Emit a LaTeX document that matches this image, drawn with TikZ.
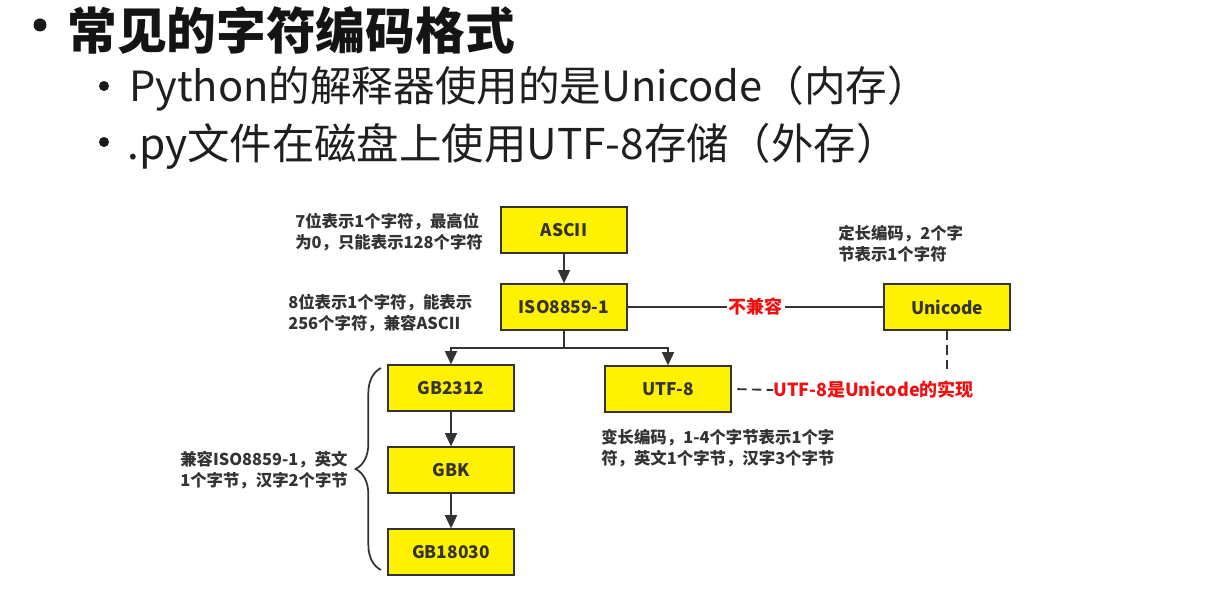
\documentclass[tikz,border=0pt]{standalone}
\usepackage{fontspec}
\setmainfont{Noto Sans CJK SC}
\usetikzlibrary{arrows.meta,decorations.pathreplacing}
\definecolor{boxfill}{HTML}{FFF200}
\definecolor{ink}{HTML}{333333}
\definecolor{redtxt}{HTML}{F01010}
\begin{document}
\begin{tikzpicture}[x=0.75pt,y=-0.75pt,
  box/.style={draw=ink, fill=boxfill, line width=1.4pt, minimum width=94.5pt, minimum height=34pt, inner sep=0pt, font=\bfseries\fontsize{13}{15}\selectfont, text=ink},
  conn/.style={draw=ink, line width=1.4pt},
  arr/.style={conn, -{Triangle[width=9pt,length=10pt]}},
  dashline/.style={draw=ink, line width=1.4pt, dash pattern=on 7pt off 4pt},
  note/.style={align=left, inner sep=0pt, anchor=west, text=ink, font=\bfseries\fontsize{12.3}{15.5}\selectfont},
  redlbl/.style={text=redtxt, font=\bfseries\fontsize{13.5}{16}\selectfont},
  bulletdot/.style={fill=black!90}]
\useasboundingbox (0,0) rectangle (1221,591);
\fill[white] (0,0) rectangle (1221,591);

% heading
\fill[bulletdot] (40,25) circle (6.5);
\node[anchor=west, inner sep=0pt, text=black!92, font=\bfseries\fontsize{37.3}{41}\selectfont] (title) at (67,30) {常见的字符编码格式};
\fill[bulletdot] (104,86) circle (5);
\node[anchor=west, inner sep=0pt, text=black!88, font=\fontsize{31.2}{35}\selectfont] (sub1) at (129,89) {Python的解释器使用的是Unicode（内存）};
\fill[bulletdot] (104,142) circle (5);
\node[anchor=west, inner sep=0pt, text=black!88, font=\fontsize{31.8}{35}\selectfont] (sub2) at (127,146) {.py文件在磁盘上使用UTF-8存储（外存）};

% boxes
\node[box] (ascii) at (564,230) {ASCII};
\node[box] (iso) at (564,307) {ISO8859-1};
\node[box] (uni) at (947,307) {Unicode};
\node[box] (gb2312) at (451,388) {GB2312};
\node[box] (utf8) at (668,389) {UTF-8};
\node[box] (gbk) at (451,470) {GBK};
\node[box] (gb18030) at (451,552) {GB18030};

% connectors
\draw[arr] (ascii) -- (iso);
\coordinate (split) at (564,348);
\draw[conn] (iso) -- (split);
\draw[arr] (split) -| (gb2312.north);
\draw[arr] (split) -| (utf8.north);
\draw[arr] (gb2312) -- (gbk);
\draw[arr] (gbk) -- (gb18030);
\draw[conn] (iso) -- node[redlbl, fill=white, inner sep=1.5pt] (incompat) {不兼容} (uni);

\coordinate (dashend) at (947,373);
\draw[dashline] (uni) -- (dashend);
\node[redlbl, anchor=west, inner sep=0pt] (impl) at (773,390) {UTF-8是Unicode的实现};
\draw[dashline, shorten <=4pt] (utf8.east) -- (impl.west);

% brace
\coordinate (braceb) at (381,570);
\coordinate (bracet) at (381,368);
\draw[decorate, decoration={brace, amplitude=19pt}, draw=ink, line width=1.3pt] (braceb) -- (bracet);

% notes
\node[note] (n1) at (295,232) {7位表示1个字符，最高位\\为0，只能表示128个字符};
\node[note] (n2) at (288,313) {8位表示1个字符，能表示\\256个字符，兼容ASCII};
\node[note] (n3) at (838,244) {定长编码，2个字\\节表示1个字符};
\node[note] (n4) at (180,470) {兼容ISO8859-1，英文\\1个字节，汉字2个字节};
\node[note] (n5) at (601,448) {变长编码，1-4个字节表示1个字\\符，英文1个字节，汉字3个字节};
\end{tikzpicture}
\end{document}
